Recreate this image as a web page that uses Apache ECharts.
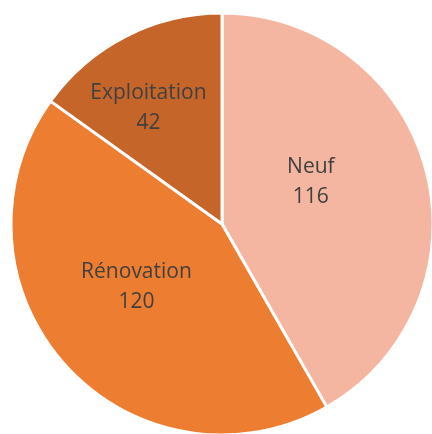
<!DOCTYPE html>
<html><head><meta charset="utf-8">
<script src="https://cdn.jsdelivr.net/npm/echarts@6/dist/echarts.min.js"></script>
<style>html,body{margin:0;padding:0;background:#fff}#c{width:432px;height:434px}</style>
</head><body><div id="c"></div>
<script>
const categories = ['Neuf', 'Rénovation', 'Exploitation'];
const values = [116, 120, 42];
const colors = ['#F4B6A0', '#ED7D31', '#C5652A'];
const labelOffsets = [[-16, -14], [-5, -10], [-24, -19]];

const chart = echarts.init(document.getElementById('c'), null, {renderer: 'canvas'});
chart.setOption({
  animation: false,
  series: [{
    type: 'pie',
    center: [222, 224],
    radius: [0, 211],
    startAngle: 90,
    clockwise: true,
    itemStyle: {borderColor: '#fff', borderWidth: 3},
    label: {
      position: 'inside',
      formatter: '{b}\n{c}',
      color: '#404040',
      fontSize: 21,
      lineHeight: 30,
      fontFamily: 'Open Sans'
    },
    labelLine: {show: false},
    data: categories.map((n, i) => ({
      name: n, value: values[i],
      itemStyle: {color: colors[i]},
      label: {offset: labelOffsets[i]}
    }))
  }]
});
</script></body></html>
